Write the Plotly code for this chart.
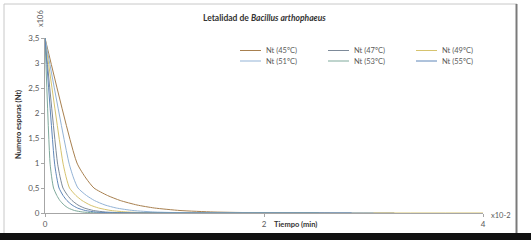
import plotly.graph_objects as go

# ---- data (time in units of 1e-2 min, N in units of 1e6) ----
series_names = ["Nt (45ºC)", "Nt (47ºC)", "Nt (49ºC)", "Nt (51ºC)", "Nt (53ºC)", "Nt (55ºC)"]
series_colors = ["#a8804f", "#7d8a99", "#d6c36e", "#93b3d6", "#7ea99b", "#5f86b8"]

t_45 = [0, 0.292, 0.373, 0.447, 0.571, 0.687, 0.84, 0.999, 1.233, 1.543, 1.952, 2.60]
n_45 = [3.5, 1.0, 0.7, 0.5, 0.35, 0.25, 0.16, 0.1, 0.05, 0.02, 0.006, 0.0]

t_47 = [0, 0.114, 0.140, 0.164, 0.207, 0.247, 0.301, 0.358, 0.442, 0.553, 0.698, 3.19]
n_47 = [3.5, 1.0, 0.7, 0.5, 0.35, 0.25, 0.16, 0.1, 0.05, 0.02, 0.006, 0.0]

t_49 = [0, 0.164, 0.195, 0.224, 0.282, 0.338, 0.411, 0.489, 0.602, 0.753, 0.952, 4.0]
n_49 = [3.5, 1.0, 0.7, 0.5, 0.35, 0.25, 0.16, 0.1, 0.05, 0.02, 0.006, 0.0]

t_51 = [0, 0.219, 0.261, 0.301, 0.379, 0.451, 0.548, 0.651, 0.803, 1.004, 1.269, 3.0]
n_51 = [3.5, 1.0, 0.7, 0.5, 0.35, 0.25, 0.16, 0.1, 0.05, 0.02, 0.006, 0.0]

t_53 = [0, 0.046, 0.062, 0.078, 0.108, 0.136, 0.174, 0.212, 0.269, 0.344, 0.444, 2.5]
n_53 = [3.5, 1.0, 0.7, 0.5, 0.35, 0.25, 0.16, 0.1, 0.05, 0.02, 0.006, 0.0]

t_55 = [0, 0.087, 0.108, 0.128, 0.165, 0.200, 0.247, 0.296, 0.368, 0.463, 0.589, 2.8]
n_55 = [3.5, 1.0, 0.7, 0.5, 0.35, 0.25, 0.16, 0.1, 0.05, 0.02, 0.006, 0.0]

series_t = [t_45, t_47, t_49, t_51, t_53, t_55]
series_n = [n_45, n_47, n_49, n_51, n_53, n_55]

y_ticks = [0, 0.5, 1, 1.5, 2, 2.5, 3, 3.5]
x_ticks = [0, 2, 4]

# ---- geometry ----
W, H = 531, 240
L, R, T, B = 45, 48, 38, 27
pw, ph = W - L - R, H - T - B

def px(xp):
    return (xp - L) / pw

def py(yp):
    return (H - B - yp) / ph

FONT = "Lato, 'Open Sans', sans-serif"
TXT = "#595959"

fig = go.Figure()
for name, col, t, n in zip(series_names, series_colors, series_t, series_n):
    fig.add_trace(go.Scatter(x=t, y=n, mode="lines", name=name,
                             line=dict(color=col, width=1, shape="spline", smoothing=0.6),
                             showlegend=False, hoverinfo="skip"))

shapes = []
annotations = []

# legend (manual, 3 columns x 2 rows)
col_x = [240, 328, 416]
row_y = [50.5, 61]
for i, (name, col) in enumerate(zip(series_names, series_colors)):
    cx = col_x[i % 3]
    ry = row_y[i // 3]
    shapes.append(dict(type="line", xref="paper", yref="paper",
                       x0=px(cx), x1=px(cx + 21), y0=py(ry), y1=py(ry),
                       line=dict(color=col, width=1)))
    annotations.append(dict(xref="paper", yref="paper", x=px(cx + 24), y=py(ry),
                            xanchor="left", yanchor="middle", showarrow=False,
                            text=name, font=dict(family=FONT, size=7.5, color=TXT)))

# frame
shapes.append(dict(type="line", xref="paper", yref="paper", x0=px(4), x1=px(517), y0=py(4), y1=py(4),
                   line=dict(color="#c8c8c8", width=1)))
shapes.append(dict(type="line", xref="paper", yref="paper", x0=px(4), x1=px(4), y0=py(4), y1=py(234),
                   line=dict(color="#c8c8c8", width=1)))
shapes.append(dict(type="line", xref="paper", yref="paper", x0=px(516.5), x1=px(516.5), y0=py(4), y1=py(234),
                   line=dict(color="#7a7a7a", width=2)))
shapes.append(dict(type="rect", xref="paper", yref="paper", x0=px(-2), x1=px(533), y0=py(233), y1=py(242),
                   line=dict(width=0), fillcolor="#111111"))

# titles
annotations.append(dict(xref="paper", yref="paper", x=px(264), y=py(18), xanchor="center", yanchor="middle",
                        showarrow=False, text="<b>Letalidad de <i>Bacillus arthophaeus</i></b>",
                        font=dict(family=FONT, size=8.5, color="#333333")))
annotations.append(dict(xref="paper", yref="paper", x=px(18), y=py(125), xanchor="center", yanchor="middle",
                        showarrow=False, textangle=-90, text="<b>Numero esporas (Nt)</b>",
                        font=dict(family=FONT, size=7.5, color="#333333")))
annotations.append(dict(xref="paper", yref="paper", x=px(272), y=py(224), xanchor="left", yanchor="middle",
                        showarrow=False, text="<b>Tiempo (min)</b>",
                        font=dict(family=FONT, size=7.5, color="#333333")))
annotations.append(dict(xref="paper", yref="paper", x=px(489), y=py(215.5), xanchor="left", yanchor="middle",
                        showarrow=False, text="x10-2", font=dict(family=FONT, size=7.5, color=TXT)))
annotations.append(dict(xref="paper", yref="paper", x=px(40), y=py(19), xanchor="center", yanchor="middle",
                        showarrow=False, textangle=-90, text="x106", font=dict(family=FONT, size=7.5, color=TXT)))

fig.update_layout(
    width=W, height=H,
    margin=dict(l=L, r=R, t=T, b=B, pad=0),
    paper_bgcolor="white", plot_bgcolor="white",
    separators=",.",
    showlegend=False,
    shapes=shapes, annotations=annotations,
    xaxis=dict(range=[0, 4], tickvals=x_ticks, ticktext=[str(v) for v in x_ticks],
               showgrid=False, zeroline=False, showline=True, linecolor="#a6a6a6", linewidth=1,
               ticks="outside", ticklen=3, tickcolor="#a6a6a6",
               tickfont=dict(family=FONT, size=8, color=TXT)),
    yaxis=dict(range=[0, 3.5], tickvals=y_ticks,
               showgrid=False, zeroline=False, showline=True, linecolor="#a6a6a6", linewidth=1,
               ticks="outside", ticklen=3, tickcolor="#a6a6a6",
               tickfont=dict(family=FONT, size=8, color=TXT)),
)

fig.write_html("out.html", config={"staticPlot": True},
               post_script="document.body.style.margin='0px';document.body.style.overflow='hidden';")
